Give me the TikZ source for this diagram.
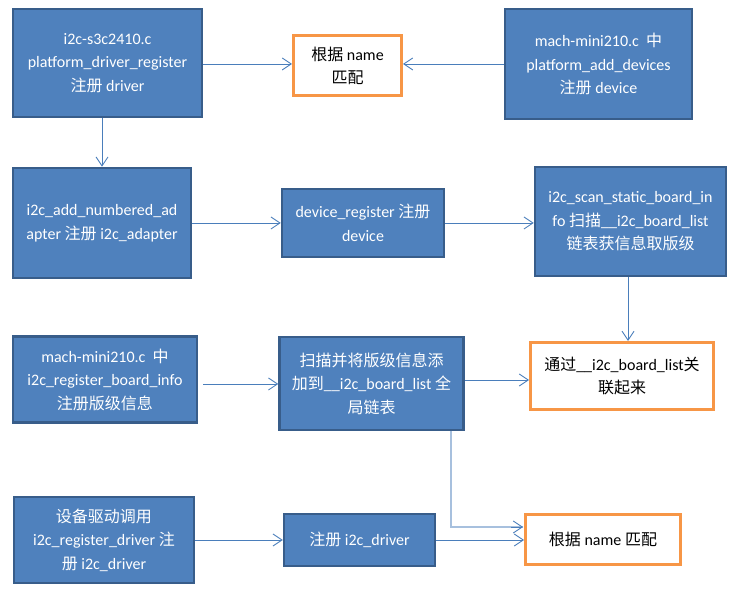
\documentclass[tikz,border=0pt]{standalone}
\usepackage{fontspec}
\setmainfont{Carlito}
\newfontfamily\cjkfont{Noto Sans CJK SC}
\newcommand{\zh}[1]{{\cjkfont #1}}
\usetikzlibrary{arrows.meta,calc}
\definecolor{boxfill}{HTML}{4F81BD}
\definecolor{boxedge}{HTML}{385D8A}
\definecolor{orangeedge}{HTML}{F79646}
\definecolor{linkblue}{HTML}{4A7EBB}
\definecolor{lightlink}{HTML}{A7C0DE}
\begin{document}
\begin{tikzpicture}[x=1pt,y=-1pt,
  bluebox/.style={draw=boxedge,line width=2.5pt,fill=boxfill,text=white,
    align=center,inner sep=0pt,font=\fontsize{16}{23.5}\selectfont},
  orangebox/.style={draw=orangeedge,line width=3pt,fill=white,text=black,
    align=center,inner sep=0pt,font=\fontsize{16}{23.5}\selectfont},
  arr/.style={draw=linkblue,line width=0.9pt,-{Straight Barb[length=9pt,width=12pt,line width=0.9pt]}},
  lightarr/.style={draw=lightlink,line width=1.6pt},
]
\useasboundingbox (0,0) rectangle (737,601);

% row 1
\node[bluebox,minimum width=189,minimum height=108] (A) at (107.5,63)
  {i2c-s3c2410.c\\platform\_driver\_register\\\zh{注册} driver};
\node[orangebox,minimum width=108,minimum height=60] (B) at (347.5,66)
  {\zh{根据} name\\\zh{匹配}};
\node[bluebox,minimum width=187,minimum height=110] (C) at (598.5,64)
  {mach-mini210.c \ \zh{中}\\platform\_add\_devices\\\zh{注册} device};

% row 2
\node[bluebox,minimum width=178,minimum height=110] (D) at (102,223)
  {i2c\_add\_numbered\_ad\\apter \zh{注册} i2c\_adapter};
\node[bluebox,minimum width=162,minimum height=68] (E) at (363,223)
  {device\_register \zh{注册}\\device};
\node[bluebox,minimum width=191,minimum height=109] (F) at (630.5,221.5)
  {i2c\_scan\_static\_board\_in\\fo \zh{扫描}\_\_i2c\_board\_list\\\zh{链表获信息取版级}};

% row 3
\node[bluebox,minimum width=184,minimum height=86] (G) at (105,379.5)
  {mach-mini210.c \ \zh{中}\\i2c\_register\_board\_info\\\zh{注册版级信息}};
\node[bluebox,minimum width=184,minimum height=93] (H) at (371.5,383.5)
  {\zh{扫描并将版级信息添}\\\zh{加到}\_\_i2c\_board\_list \zh{全}\\\zh{局链表}};
\node[orangebox,minimum width=183,minimum height=67] (I) at (622,376)
  {\zh{通过}\_\_i2c\_board\_list\zh{关}\\\zh{联起来}};

% row 4
\node[bluebox,minimum width=180,minimum height=86] (K) at (104,540)
  {\zh{设备驱动调用}\\i2c\_register\_driver \zh{注}\\\zh{册} i2c\_driver};
\node[bluebox,minimum width=151,minimum height=52] (L) at (359.5,540)
  {\zh{注册} i2c\_driver};
\node[orangebox,minimum width=155,minimum height=50] (J) at (603,539.5)
  {\zh{根据} name \zh{匹配}};

% connectors
\draw[arr] (A.east |- 0,64) -- (B.west |- 0,64);
\draw[arr] (C.west |- 0,64) -- (B.east |- 0,64);
\draw[arr] (D.north |- A.south) -- (D.north);
\draw[arr] (D.east) -- (D.east -| E.west);
\draw[arr] (E.east |- D.east) -- (F.west |- D.east);
\draw[arr] (F.south -| 628,0) -- (I.north -| 628,0);
\coordinate (gh) at (203,384);
\draw[arr] (gh) -- (H.west |- gh);
\coordinate (hi) at (465,380);
\draw[arr] (hi) -- (I.west |- hi);
\coordinate (hj) at (451,431);
\coordinate (jj) at (523,527);
\draw[lightarr] (hj) |- (jj);
\draw[arr] ($(jj)+(-12,0)$) -- (jj);
\draw[arr] (K.east) -- (K.east -| L.west);
\draw[arr] (L.east) -- (L.east -| J.west);
\end{tikzpicture}
\end{document}
